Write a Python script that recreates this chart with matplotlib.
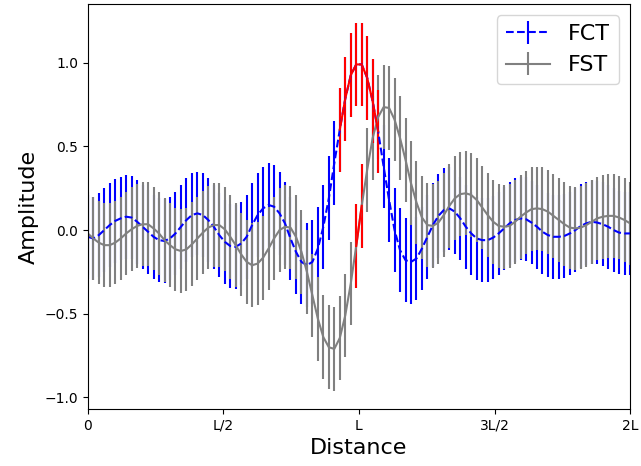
import matplotlib
matplotlib.use("Agg")
import matplotlib.pyplot as plt
import numpy as np

L = 1.0
x = np.linspace(0, 2 * L, 100)

fct = [
    -0.04, -0.05, -0.03, 0.00, 0.03, 0.055, 0.07, 0.08, 0.075, 0.05,
    0.02, -0.01, -0.04, -0.06, -0.065, -0.05, -0.02, 0.02, 0.06, 0.09,
    0.10, 0.09, 0.06, 0.02, -0.03, -0.07, -0.095, -0.10, -0.08, -0.04,
    0.03, 0.09, 0.13, 0.15, 0.14, 0.10, 0.04, -0.05, -0.13, -0.19,
    -0.21, -0.19, -0.11, 0.02, 0.19, 0.40, 0.60, 0.785, 0.925, 0.99,
    0.99, 0.91, 0.77, 0.59, 0.38, 0.18, 0.00, -0.12, -0.18, -0.19,
    -0.17, -0.11, -0.04, 0.03, 0.085, 0.12, 0.13, 0.11, 0.07, 0.02,
    -0.02, -0.05, -0.06, -0.06, -0.045, -0.02, 0.01, 0.04, 0.06, 0.07,
    0.065, 0.045, 0.02, -0.01, -0.03, -0.04, -0.04, -0.035, -0.02, 0.00,
    0.025, 0.04, 0.05, 0.045, 0.035, 0.02, 0.00, -0.015, -0.02, -0.02,
]

fst = [
    -0.02, -0.05, -0.075, -0.09, -0.09, -0.075, -0.05, -0.02, 0.005, 0.025,
    0.035, 0.035, 0.01, -0.02, -0.06, -0.09, -0.115, -0.125, -0.115, -0.085,
    -0.05, -0.015, 0.015, 0.03, 0.03, 0.005, -0.04, -0.09, -0.145, -0.19,
    -0.21, -0.20, -0.165, -0.11, -0.05, 0.00, 0.02, 0.015, -0.04, -0.13,
    -0.25, -0.39, -0.53, -0.64, -0.70, -0.71, -0.645, -0.51, -0.32, -0.095,
    0.145, 0.36, 0.55, 0.675, 0.735, 0.73, 0.66, 0.55, 0.42, 0.28,
    0.165, 0.075, 0.03, 0.025, 0.045, 0.09, 0.145, 0.19, 0.215, 0.22,
    0.21, 0.18, 0.135, 0.09, 0.05, 0.025, 0.02, 0.025, 0.05, 0.08,
    0.105, 0.125, 0.13, 0.125, 0.11, 0.085, 0.06, 0.035, 0.015, 0.01,
    0.015, 0.03, 0.05, 0.07, 0.08, 0.085, 0.085, 0.075, 0.06, 0.04,
]

err = 0.25

# points drawn again in red around the centre
red_fct = list(range(46, 54))
red_fst = [49, 50]

fct = np.array(fct)
fst = np.array(fst)

fig, ax = plt.subplots(figsize=(6.41, 4.66), dpi=100)
fig.subplots_adjust(left=0.137, right=0.983, bottom=0.122, top=0.991)

ax.errorbar(x, fct, yerr=err, fmt='--', color='blue', lw=1.5, label='FCT')
ax.errorbar(x, fst, yerr=err, fmt='-', color='gray', lw=1.5, label='FST')
ax.errorbar(x[red_fct], fct[red_fct], yerr=err, fmt='-', color='red', lw=1.5)
ax.errorbar(x[red_fst], fst[red_fst], yerr=err, fmt='-', color='red', lw=1.5)

ax.set_xlim(0, 2 * L)
ax.set_xticks([0, L / 2, L, 3 * L / 2, 2 * L])
ax.set_xticklabels(['0', 'L/2', 'L', '3L/2', '2L'])
ax.set_xlabel('Distance', fontsize=16)
ax.set_ylabel('Amplitude', fontsize=16)
ax.legend(loc='upper right', fontsize=16)

plt.savefig('out.png')
